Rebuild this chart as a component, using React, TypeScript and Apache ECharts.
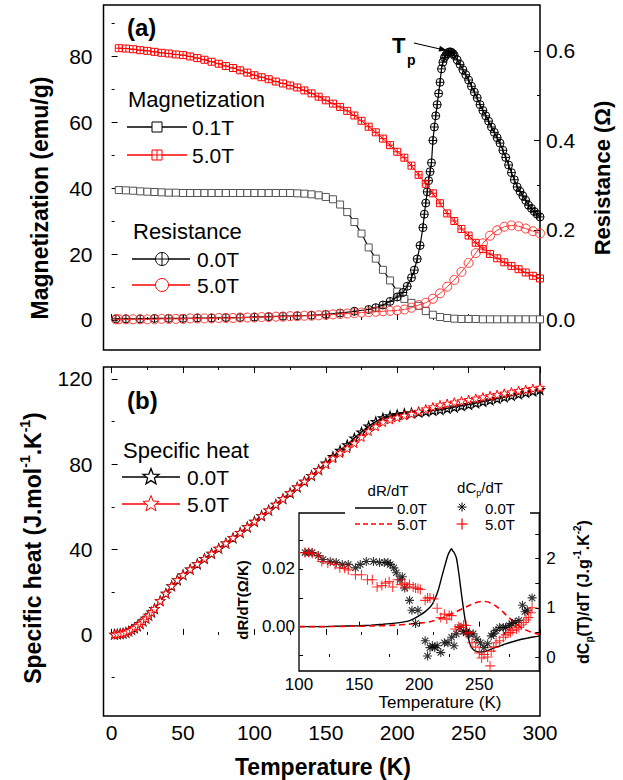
import React, { useEffect, useRef } from 'react';
import * as echarts from 'echarts';

const FONT = 'Liberation Sans, Arial, Helvetica, sans-serif';

// ---------- Panel (a): magnetization (emu/g) ----------
const magLowField: [number, number][] = [
  [5, 39.4], [10, 39.3], [15, 39.2], [20, 39.0], [25, 38.9], [30, 38.8], [35, 38.7], [40, 38.6], [45, 38.6], [50, 38.5],
  [55, 38.5], [60, 38.5], [65, 38.5], [70, 38.5], [75, 38.5], [80, 38.5], [85, 38.5], [90, 38.5], [95, 38.5], [100, 38.5],
  [105, 38.5], [110, 38.5], [115, 38.5], [120, 38.5], [125, 38.5], [130, 38.4], [135, 38.3], [140, 38.1], [145, 37.8], [150, 37.3],
  [155, 36.6], [160, 35.0], [165, 32.7], [170, 29.7], [175, 26.2], [180, 22.0], [185, 18.6], [190, 15.2], [195, 12.0], [200, 8.6],
  [205, 6.4], [210, 5.2], [215, 4.3], [220, 2.7], [225, 1.6], [230, 0.9], [235, 0.6], [240, 0.4], [245, 0.3], [250, 0.3],
  [255, 0.3], [260, 0.2], [265, 0.2], [270, 0.2], [275, 0.2], [280, 0.2], [285, 0.2], [290, 0.2], [295, 0.2], [300, 0.2],
];
const magHighField: [number, number][] = [
  [5, 82.4], [10, 82.3], [15, 82.1], [20, 81.8], [25, 81.6], [30, 81.3], [35, 81.0], [40, 80.8], [45, 80.5], [50, 80.3],
  [55, 79.9], [60, 79.4], [65, 78.9], [70, 78.3], [75, 77.7], [80, 77.0], [85, 76.4], [90, 75.7], [95, 75.0], [100, 74.2],
  [105, 73.6], [110, 73.0], [115, 72.3], [120, 71.7], [125, 71.1], [130, 70.5], [135, 69.6], [140, 68.7], [145, 67.7], [150, 66.6],
  [155, 65.6], [160, 64.6], [165, 63.4], [170, 62.0], [175, 60.4], [180, 58.6], [185, 56.9], [190, 55.0], [195, 53.0], [200, 51.0],
  [205, 49.2], [210, 46.8], [215, 44.0], [220, 41.3], [225, 38.4], [230, 35.4], [235, 32.3], [240, 30.0], [245, 27.6], [250, 25.6],
  [255, 23.4], [260, 21.5], [265, 20.0], [270, 18.7], [275, 17.5], [280, 16.4], [285, 15.4], [290, 14.4], [295, 13.4], [300, 12.6],
];

// ---------- Panel (a): resistance (Ohm) ----------
const resZero: [number, number][] = [
  [3, 0.001], [10, 0.001], [20, 0.001], [30, 0.002], [40, 0.002], [50, 0.002], [60, 0.003], [70, 0.003], [80, 0.004], [90, 0.004],
  [100, 0.005], [110, 0.006], [120, 0.007], [130, 0.008], [140, 0.009], [150, 0.011], [160, 0.014], [170, 0.018], [180, 0.022], [185, 0.026],
  [190, 0.032], [195, 0.040], [200, 0.050], [204, 0.060], [207, 0.074], [210, 0.093], [212, 0.110], [214, 0.135], [216, 0.165], [218, 0.205],
  [219, 0.235], [220, 0.260], [221, 0.285], [222, 0.310], [223, 0.330], [224, 0.350], [225, 0.400], [226, 0.430], [227, 0.455], [228, 0.480],
  [229, 0.505], [230, 0.530], [231, 0.560], [232, 0.575], [233, 0.585], [234, 0.590], [235, 0.594], [236, 0.597], [237, 0.598], [238, 0.597],
  [239, 0.594], [240, 0.590], [242, 0.580], [244, 0.570], [246, 0.558], [248, 0.547], [250, 0.535], [252, 0.521], [254, 0.508], [256, 0.495],
  [258, 0.480], [260, 0.467], [262, 0.455], [264, 0.443], [266, 0.430], [268, 0.418], [270, 0.406], [272, 0.394], [274, 0.378], [276, 0.362],
  [278, 0.345], [280, 0.328], [282, 0.312], [284, 0.296], [286, 0.286], [288, 0.276], [290, 0.266], [292, 0.255], [294, 0.248], [296, 0.241],
  [298, 0.235], [300, 0.229],
];
const resHigh: [number, number][] = [
  [3, 0.0], [5, 0.0], [10, 0.0], [15, 0.0], [20, 0.0], [25, 0.0], [30, 0.0], [35, 0.001], [40, 0.001], [45, 0.001],
  [50, 0.001], [55, 0.002], [60, 0.002], [65, 0.002], [70, 0.002], [75, 0.003], [80, 0.003], [85, 0.003], [90, 0.004], [95, 0.004],
  [100, 0.004], [105, 0.005], [110, 0.005], [115, 0.006], [120, 0.006], [125, 0.007], [130, 0.007], [135, 0.008], [140, 0.008], [145, 0.009],
  [150, 0.010], [155, 0.011], [160, 0.012], [165, 0.013], [170, 0.014], [175, 0.015], [180, 0.016], [185, 0.017], [190, 0.018], [195, 0.019],
  [200, 0.020], [205, 0.022], [210, 0.026], [215, 0.032], [220, 0.037], [225, 0.046], [230, 0.058], [235, 0.073], [240, 0.088], [245, 0.106],
  [250, 0.126], [255, 0.148], [260, 0.170], [265, 0.187], [270, 0.199], [275, 0.207], [280, 0.210], [285, 0.208], [290, 0.203], [295, 0.197],
  [300, 0.192],
];

// ---------- Panel (b): specific heat (J/mol/K) ----------
const cpZero: [number, number][] = [
  [2, 0.3], [4, 0.4], [6, 0.6], [8, 0.8], [10, 1.2], [12, 1.8], [14, 2.5], [16, 3.3], [18, 4.2], [20, 5.3],
  [22, 6.5], [24, 7.8], [26, 9.2], [28, 10.7], [30, 12.3], [34, 16.0], [38, 19.5], [42, 23.0], [46, 25.8], [50, 28.2],
  [55, 30.8], [60, 33.3], [65, 35.8], [70, 38.2], [75, 40.6], [80, 43.0], [85, 45.5], [90, 48.0], [95, 50.6], [100, 53.2],
  [105, 55.9], [110, 58.5], [115, 61.2], [120, 63.9], [125, 66.6], [130, 69.3], [135, 72.0], [140, 74.7], [145, 77.5], [150, 80.5],
  [155, 83.6], [160, 86.5], [165, 89.1], [170, 92.3], [175, 95.1], [180, 97.9], [185, 100.0], [190, 101.7], [195, 102.7], [200, 103.3],
  [205, 103.8], [210, 104.1], [215, 104.4], [220, 104.8], [225, 105.2], [230, 105.6], [235, 106.2], [240, 106.8], [245, 107.4], [250, 108.0],
  [255, 108.7], [260, 109.4], [265, 110.1], [270, 110.8], [275, 111.5], [280, 112.2], [285, 112.9], [290, 113.6], [295, 114.3], [300, 115.0],
];
const cpHigh: [number, number][] = [
  [2, 0.3], [4, 0.4], [6, 0.6], [8, 0.8], [10, 1.2], [12, 1.8], [14, 2.5], [16, 3.3], [18, 4.2], [20, 5.3],
  [22, 6.5], [24, 7.8], [26, 9.2], [28, 10.7], [30, 12.3], [34, 16.0], [38, 19.5], [42, 23.0], [46, 25.8], [50, 28.2],
  [55, 30.8], [60, 33.3], [65, 35.8], [70, 38.2], [75, 40.6], [80, 43.0], [85, 45.5], [90, 48.0], [95, 50.6], [100, 53.2],
  [105, 55.9], [110, 58.5], [115, 61.2], [120, 63.9], [125, 66.6], [130, 69.3], [135, 72.0], [140, 74.7], [145, 77.4], [150, 80.1],
  [155, 82.8], [160, 85.3], [165, 87.5], [170, 89.9], [175, 92.8], [180, 95.5], [185, 97.8], [190, 99.8], [195, 101.0], [200, 102.0],
  [205, 102.9], [210, 103.7], [215, 104.8], [220, 105.9], [225, 106.9], [230, 107.8], [235, 108.5], [240, 109.1], [245, 109.7], [250, 110.3],
  [255, 110.9], [260, 111.5], [265, 112.1], [270, 112.7], [275, 113.3], [280, 113.9], [285, 114.5], [290, 115.0], [295, 115.5], [300, 116.0],
];

// ---------- Inset: dR/dT (Ohm/K) ----------
const dRdTZero: [number, number][] = [
  [100, 0.0], [110, 0.0], [120, 0.0], [130, 0.0001], [140, 0.0002], [150, 0.0003], [160, 0.0005], [170, 0.0008], [180, 0.0012], [190, 0.0018],
  [195, 0.0026], [200, 0.0038], [205, 0.0052], [210, 0.0072], [213, 0.0095], [216, 0.0128], [219, 0.0175], [222, 0.0220], [224, 0.0248], [226, 0.0265],
  [227, 0.0270], [228, 0.0262], [229, 0.0258], [231, 0.0238], [233, 0.0185], [235, 0.0120], [237, 0.0058], [239, 0.0005], [241, -0.0040], [243, -0.0068],
  [246, -0.0083], [250, -0.0088], [255, -0.0086], [260, -0.0078], [265, -0.0070], [270, -0.0063], [275, -0.0056], [280, -0.0050], [285, -0.0044], [290, -0.0040],
  [295, -0.0036], [300, -0.0033],
];
const dRdTHigh: [number, number][] = [
  [100, 0.0], [120, 0.0], [140, 0.0001], [160, 0.0002], [180, 0.0005], [190, 0.0008], [200, 0.0012], [210, 0.0018], [220, 0.0032], [230, 0.0050],
  [240, 0.0070], [245, 0.0080], [250, 0.0086], [255, 0.0087], [260, 0.0081], [265, 0.0068], [270, 0.0050], [275, 0.0030], [280, 0.0012], [285, -0.0003],
  [290, -0.0014], [295, -0.0022], [300, -0.0027],
];

// ---------- Inset: dCp/dT (J/g/K^2) ----------
const dCpZero: [number, number][] = [
  [105, 2.12], [108, 2.12], [111, 2.12], [116, 2.06], [120, 1.98], [126, 1.94], [131, 1.92], [136, 1.88], [141, 1.88], [147, 1.81],
  [151, 1.88], [156, 1.94], [162, 1.94], [167, 1.92], [171, 1.92], [174, 1.92], [176, 1.88], [179, 1.81], [181, 1.71], [184, 1.57],
  [186, 1.63], [188, 1.40], [192, 1.15], [194, 0.95], [197, 0.68], [199, 0.95], [205, 0.33], [207, 0.02], [209, 0.19], [211, 0.23],
  [213, 0.19], [215, 0.23], [218, 0.09], [221, 0.29], [224, 0.29], [227, 0.40], [229, 0.23], [231, 0.47], [234, 0.60], [237, 0.52],
  [239, 0.49], [242, 0.47], [245, 0.47], [248, 0.36], [251, 0.29], [254, 0.19], [257, 0.27], [260, 0.43], [262, 0.47], [264, 0.54],
  [267, 0.60], [270, 0.60], [272, 0.60], [275, 0.64], [277, 0.68], [280, 0.70], [283, 0.74], [286, 1.05], [288, 0.92], [290, 0.95],
  [294, 1.20],
];
const dCpHigh: [number, number][] = [
  [105, 2.12], [108, 2.12], [111, 2.10], [116, 2.05], [119, 1.94], [124, 1.91], [130, 1.88], [134, 1.81], [138, 1.80], [141, 1.77],
  [147, 1.67], [152, 1.67], [157, 1.57], [161, 1.57], [165, 1.42], [169, 1.45], [172, 1.50], [175, 1.53], [178, 1.42], [182, 1.57],
  [185, 1.47], [188, 1.50], [190, 1.42], [192, 1.47], [195, 1.42], [197, 1.40], [199, 1.39], [201, 1.37], [205, 1.15], [207, 1.20],
  [209, 1.20], [212, 1.18], [215, 0.99], [218, 0.80], [221, 0.87], [223, 0.77], [225, 0.85], [227, 0.84], [230, 0.57], [233, 0.62],
  [235, 0.60], [237, 0.65], [239, 0.64], [240, 0.47], [242, 0.50], [244, 0.29], [247, 0.20], [250, 0.08], [252, -0.02], [254, 0.05],
  [257, 0.00], [259, -0.18], [260, 0.12], [262, 0.20], [264, 0.29], [267, 0.33], [270, 0.40], [272, 0.45], [274, 0.49], [276, 0.50],
  [278, 0.54], [281, 0.57], [283, 0.60], [285, 0.65], [287, 0.70], [289, 0.75], [291, 0.80], [293, 0.90], [294, 1.00],
];

// ---------- tick / label values ----------
const tempMajor = [0, 50, 100, 150, 200, 250, 300];
const tempMinor = [25, 75, 125, 175, 225, 275];
const magMajor = [0, 20, 40, 60, 80];
const magMinor = [10, 30, 50, 70, 90];
const resMajor = [0, 0.2, 0.4, 0.6];
const resMinor = [0.1, 0.3, 0.5];
const cpMajor = [0, 40, 80, 120];
const cpMinor = [-20, 20, 60, 100];
const insetTempLabels = [100, 150, 200, 250];
const insetTempMajor = [150, 200, 250];
const insetTempMinor = [125, 175, 225, 275];
const insetLeftTicks = [-0.01, 0, 0.01, 0.02, 0.03];
const insetLeftLabels = [0, 0.02];
const insetRightTicks = [0, 0.5, 1, 1.5, 2, 2.5];
const insetRightLabels = [0, 1, 2];

// ---------- symbols ----------
const SQ_PLUS = 'path://M0,0L10,0L10,10L0,10Z M5,0L5,10 M0,5L10,5';
const CIRC_PLUS = 'path://M10,0A10,10,0,1,1,10,20A10,10,0,1,1,10,0Z M10,0L10,20 M0,10L20,10';
const STAR = 'path://M10,0L12.35,6.76L19.51,6.91L13.8,11.24L15.88,18.09L10,14L4.12,18.09L6.2,11.24L0.49,6.91L7.65,6.76Z';
const ASTER = 'path://M5,0L5,10 M0,5L10,5 M1.5,1.5L8.5,8.5 M8.5,1.5L1.5,8.5';
const PLUS = 'path://M5,0L5,10 M0,5L10,5';

const RED = '#ff0000';
const CLEAR = 'rgba(255,255,255,0)';

function axis(gridIndex: number, position: string, min: number, max: number, ticks: number[], len: number, labels?: number[], labelExtra: any = {}) {
  return {
    type: 'value',
    gridIndex,
    position,
    min,
    max,
    axisLine: { show: false },
    axisTick: { show: true, inside: true, length: len, customValues: ticks, lineStyle: { color: '#000', width: 1 } },
    axisLabel: labels
      ? { show: true, customValues: labels, color: '#000', fontFamily: FONT, ...labelExtra }
      : { show: false },
    splitLine: { show: false },
  };
}

function txt(x: number, y: number, text: string, size: number, extra: any = {}) {
  return {
    type: 'text', x, y, z: 31,
    style: { text, fontSize: size, fontFamily: FONT, fill: '#000', align: 'left', verticalAlign: 'middle', ...extra },
  };
}

function richTxt(x: number, y: number, text: string, rich: any, rotation = 0) {
  return {
    type: 'text', x, y, rotation, z: 31,
    style: { text, rich, fill: '#000', align: 'center', verticalAlign: 'middle', fontFamily: FONT },
  };
}

function seg(x1: number, y1: number, x2: number, y2: number, stroke: string, lineWidth = 1.5, lineDash?: number[]) {
  return { type: 'line', z: 31, shape: { x1, y1, x2, y2 }, style: { stroke, lineWidth, lineDash } };
}

function starPts(cx: number, cy: number, R: number, r: number) {
  const pts: number[][] = [];
  for (let i = 0; i < 10; i++) {
    const a = -Math.PI / 2 + (i * Math.PI) / 5;
    const rad = i % 2 === 0 ? R : r;
    pts.push([cx + rad * Math.cos(a), cy + rad * Math.sin(a)]);
  }
  return pts;
}

function buildOption() {
  const bold = (size: number, lh: number) => ({ fontSize: size, fontWeight: 'bold', fontFamily: FONT, lineHeight: lh, fill: '#000' });
  const sup = (size: number) => ({ fontSize: size, fontWeight: 'bold', fontFamily: FONT, lineHeight: size + 1, verticalAlign: 'top', fill: '#000' });
  const sub = (size: number) => ({ fontSize: size, fontWeight: 'bold', fontFamily: FONT, lineHeight: size + 1, verticalAlign: 'bottom', fill: '#000' });

  const graphic: any[] = [
    // panel labels
    txt(127, 27, '(a)', 24, { fontWeight: 'bold' }),
    txt(127, 400, '(b)', 24, { fontWeight: 'bold' }),
    // T_p annotation
    txt(392, 45, 'T', 22, { fontWeight: 'bold' }),
    txt(407, 60, 'p', 14, { fontWeight: 'bold' }),
    seg(414, 43, 440, 49, '#000', 1.2),
    { type: 'polygon', z: 31, shape: { points: [[447, 50.6], [438.5, 51.6], [439.9, 45.8]] }, style: { fill: '#000' } },

    // legend (a) magnetization
    txt(128, 99, 'Magnetization', 22),
    seg(127, 127, 187, 127, '#000'),
    { type: 'rect', z: 32, shape: { x: 152, y: 122, width: 10, height: 10 }, style: { fill: '#fff', stroke: '#000', lineWidth: 1 } },
    txt(192, 127, '0.1T', 21),
    seg(127, 155, 187, 155, RED),
    { type: 'rect', z: 32, shape: { x: 152, y: 150, width: 10, height: 10 }, style: { fill: '#fff', stroke: RED, lineWidth: 1 } },
    { type: 'line', z: 33, shape: { x1: 157, y1: 150, x2: 157, y2: 160 }, style: { stroke: RED, lineWidth: 1 } },
    { type: 'line', z: 33, shape: { x1: 152, y1: 155, x2: 162, y2: 155 }, style: { stroke: RED, lineWidth: 1 } },
    txt(192, 155, '5.0T', 21),
    // legend (a) resistance
    txt(133, 231, 'Resistance', 22),
    seg(132, 259, 190, 259, '#000'),
    { type: 'circle', z: 32, shape: { cx: 162, cy: 259, r: 6.5 }, style: { fill: '#fff', stroke: '#000', lineWidth: 1 } },
    { type: 'line', z: 33, shape: { x1: 162, y1: 252.5, x2: 162, y2: 265.5 }, style: { stroke: '#000', lineWidth: 1 } },
    { type: 'line', z: 33, shape: { x1: 155.5, y1: 259, x2: 168.5, y2: 259 }, style: { stroke: '#000', lineWidth: 1 } },
    txt(197, 259, '0.0T', 21),
    seg(132, 285, 190, 285, RED),
    { type: 'circle', z: 32, shape: { cx: 162, cy: 285, r: 6.5 }, style: { fill: '#fff', stroke: RED, lineWidth: 1 } },
    txt(197, 285, '5.0T', 21),

    // legend (b)
    txt(123, 450, 'Specific heat', 22),
    seg(122, 477, 180, 477, '#000'),
    { type: 'polygon', z: 32, shape: { points: starPts(151, 477, 8.5, 3.6) }, style: { fill: '#fff', stroke: '#000', lineWidth: 1.3 } },
    txt(187, 477, '0.0T', 21),
    seg(122, 504, 180, 504, RED),
    { type: 'polygon', z: 32, shape: { points: starPts(151, 504, 8.5, 3.6) }, style: { fill: '#fff', stroke: RED, lineWidth: 1 } },
    txt(187, 504, '5.0T', 21),

    // inset legend background
    { type: 'rect', z: 30, shape: { x: 345, y: 474, width: 185, height: 58 }, style: { fill: '#fff' } },
    txt(388, 490, 'dR/dT', 15, { align: 'center' }),
    seg(355, 508, 393, 508, '#000', 1.3),
    txt(397, 508, '0.0T', 15),
    seg(355, 524, 393, 524, RED, 1.3, [5, 3]),
    txt(397, 524, '5.0T', 15),
    richTxt(480, 487, '{m|dC}{b|p}{m|/dT}', {
      m: { fontSize: 15, fontFamily: FONT, lineHeight: 20, fill: '#000' },
      b: { fontSize: 9, fontFamily: FONT, lineHeight: 10, verticalAlign: 'bottom', fill: '#000' },
    }),
    { type: 'line', z: 31, shape: { x1: 462, y1: 502.5, x2: 462, y2: 511.5 }, style: { stroke: '#000', lineWidth: 1 } },
    { type: 'line', z: 31, shape: { x1: 457.5, y1: 507, x2: 466.5, y2: 507 }, style: { stroke: '#000', lineWidth: 1 } },
    { type: 'line', z: 31, shape: { x1: 458.8, y1: 503.8, x2: 465.2, y2: 510.2 }, style: { stroke: '#000', lineWidth: 1 } },
    { type: 'line', z: 31, shape: { x1: 465.2, y1: 503.8, x2: 458.8, y2: 510.2 }, style: { stroke: '#000', lineWidth: 1 } },
    txt(485, 508, '0.0T', 15),
    { type: 'line', z: 31, shape: { x1: 462, y1: 518.5, x2: 462, y2: 529.5 }, style: { stroke: RED, lineWidth: 1.2 } },
    { type: 'line', z: 31, shape: { x1: 456.5, y1: 524, x2: 467.5, y2: 524 }, style: { stroke: RED, lineWidth: 1.2 } },
    txt(485, 524, '5.0T', 15),

    // axis titles
    richTxt(40, 198, '{m|Magnetization (emu/g)}', { m: bold(23, 28) }, Math.PI / 2),
    richTxt(602, 178, '{m|Resistance (Ω)}', { m: bold(22, 28) }, Math.PI / 2),
    richTxt(33, 548, '{m|Specific heat (J.mol}{s|-1}{m|.K}{s|-1}{m|)}', { m: bold(23, 30), s: sup(14) }, Math.PI / 2),
    richTxt(323, 767, '{m|Temperature (K)}', { m: bold(23, 28) }),
    richTxt(242, 600, '{m|dR/dT(Ω/K)}', { m: bold(15, 20) }, Math.PI / 2),
    richTxt(583, 592, '{m|dC}{b|p}{m|(T)/dT (J.g}{s|-1}{m|.K}{s|-2}{m|)}', { m: bold(16, 22), s: sup(10), b: sub(10) }, Math.PI / 2),
    txt(440, 702, 'Temperature (K)', 17, { align: 'center' }),
  ];

  const lblMain = { fontSize: 21 };
  const lblInset = { fontSize: 17 };

  return {
    backgroundColor: '#fff',
    animation: false,
    grid: [
      { left: 103.5, top: 5, width: 436.5, height: 345, show: true, borderColor: '#000', borderWidth: 1.5, backgroundColor: 'transparent' },
      { left: 103.5, top: 367, width: 436.5, height: 349, show: true, borderColor: '#000', borderWidth: 1.5, backgroundColor: 'transparent' },
      { left: 299, top: 513, width: 240.3, height: 158, show: true, borderColor: '#000', borderWidth: 1.3, backgroundColor: '#fff' },
    ],
    xAxis: [
      axis(0, 'bottom', -5.7, 300, tempMajor, 6),
      axis(0, 'bottom', -5.7, 300, tempMinor, 3),
      axis(1, 'bottom', -5.7, 300, tempMajor, 6, tempMajor, { ...lblMain, margin: 6 }),
      axis(1, 'bottom', -5.7, 300, tempMinor, 3),
      axis(1, 'top', -5.7, 300, tempMajor, 6),
      axis(1, 'top', -5.7, 300, tempMinor, 3),
      axis(2, 'bottom', 100, 300, insetTempMajor, 5, insetTempLabels, { ...lblInset, margin: 5 }),
      axis(2, 'bottom', 100, 300, insetTempMinor, 3),
    ],
    yAxis: [
      axis(0, 'left', -9.1, 95.5, magMajor, 6, magMajor, { ...lblMain, margin: 11 }),
      axis(0, 'left', -9.1, 95.5, magMinor, 3),
      axis(0, 'right', -0.0686, 0.7028, resMajor, 6, resMajor, { ...lblMain, margin: 6, formatter: (v: number) => v.toFixed(1) }),
      axis(0, 'right', -0.0686, 0.7028, resMinor, 3),
      axis(1, 'left', -38, 125.6, cpMajor, 6, cpMajor, { ...lblMain, margin: 11 }),
      axis(1, 'left', -38, 125.6, cpMinor, 3),
      axis(2, 'left', -0.0154, 0.0394, insetLeftTicks, 4, insetLeftLabels, { ...lblInset, margin: 4, formatter: (v: number) => v.toFixed(2) }),
      axis(2, 'right', -0.284, 2.924, insetRightTicks, 4, insetRightLabels, { ...lblInset, margin: 7 }),
    ],
    series: [
      {
        type: 'line', name: 'M 0.1T', xAxisIndex: 0, yAxisIndex: 0, data: magLowField, showAllSymbol: true,
        symbol: 'rect', symbolSize: 7, itemStyle: { color: '#fff', borderColor: '#555', borderWidth: 1 },
        lineStyle: { color: '#000', width: 1.2 }, z: 3,
      },
      {
        type: 'line', name: 'R 0.0T', xAxisIndex: 0, yAxisIndex: 2, data: resZero, showAllSymbol: true,
        symbol: CIRC_PLUS, symbolSize: 8, itemStyle: { color: CLEAR, borderColor: '#000', borderWidth: 1 },
        lineStyle: { color: '#000', width: 1.2 }, z: 3,
      },
      {
        type: 'line', name: 'R 5.0T', xAxisIndex: 0, yAxisIndex: 2, data: resHigh, showAllSymbol: true,
        symbol: 'circle', symbolSize: 9, itemStyle: { color: CLEAR, borderColor: '#ff3838', borderWidth: 1 },
        lineStyle: { color: '#ff3838', width: 1 }, z: 4,
      },
      {
        type: 'line', name: 'M 5.0T', xAxisIndex: 0, yAxisIndex: 0, data: magHighField, showAllSymbol: true,
        symbol: SQ_PLUS, symbolSize: 7, itemStyle: { color: CLEAR, borderColor: RED, borderWidth: 1 },
        lineStyle: { color: RED, width: 1 }, z: 5,
      },
      {
        type: 'line', name: 'Cp 0.0T', xAxisIndex: 2, yAxisIndex: 4, data: cpZero, showAllSymbol: true,
        symbol: STAR, symbolSize: 9, itemStyle: { color: CLEAR, borderColor: '#000', borderWidth: 1.2 },
        lineStyle: { color: '#000', width: 1.5 }, z: 3,
      },
      {
        type: 'line', name: 'Cp 5.0T', xAxisIndex: 2, yAxisIndex: 4, data: cpHigh, showAllSymbol: true,
        symbol: STAR, symbolSize: 9, itemStyle: { color: '#fff', borderColor: RED, borderWidth: 1 },
        lineStyle: { color: RED, width: 1 }, z: 4,
      },
      {
        type: 'line', name: 'dR/dT 0.0T', xAxisIndex: 6, yAxisIndex: 6, data: dRdTZero, symbol: 'none', smooth: 0.25,
        lineStyle: { color: '#000', width: 1.4 }, z: 5,
      },
      {
        type: 'line', name: 'dR/dT 5.0T', xAxisIndex: 6, yAxisIndex: 6, data: dRdTHigh, symbol: 'none', smooth: 0.3,
        lineStyle: { color: RED, width: 1.6, type: [6, 4] }, z: 5,
      },
      {
        type: 'scatter', name: 'dCp/dT 0.0T', xAxisIndex: 6, yAxisIndex: 7, data: dCpZero,
        symbol: ASTER, symbolSize: 9, itemStyle: { color: CLEAR, borderColor: '#000', borderWidth: 1.1 }, z: 6,
      },
      {
        type: 'scatter', name: 'dCp/dT 5.0T', xAxisIndex: 6, yAxisIndex: 7, data: dCpHigh,
        symbol: PLUS, symbolSize: 10, itemStyle: { color: CLEAR, borderColor: RED, borderWidth: 1.1 }, z: 6,
      },
    ],
    graphic,
  };
}

export default function App() {
  const ref = useRef<HTMLDivElement>(null);
  useEffect(() => {
    if (!ref.current) return;
    const chart = echarts.init(ref.current, undefined, { renderer: 'svg' });
    chart.setOption(buildOption() as any);
    return () => chart.dispose();
  }, []);
  return <div ref={ref} style={{ position: 'absolute', left: 0, top: 0, width: 623, height: 780 }} />;
}
